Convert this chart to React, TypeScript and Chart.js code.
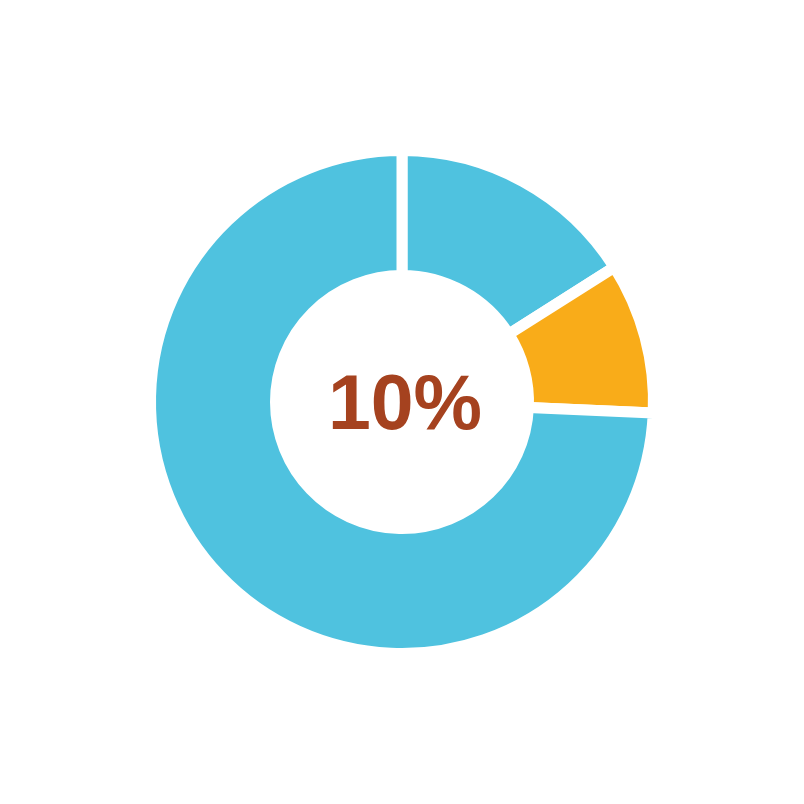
import React, { useEffect, useRef } from "react";
import { Chart, registerables } from "chart.js";

Chart.register(...registerables);

const categories = ["Other A", "Highlight", "Other B"];
const values = [16, 9.7, 74.3];
const colors = ["#4FC2DF", "#F9AC19", "#4FC2DF"];
const centerLabel = "10%";
const centerFont = "bold 77px 'Liberation Sans', Arial, Helvetica, sans-serif";

export default function App() {
  const ref = useRef<HTMLCanvasElement | null>(null);
  useEffect(() => {
    if (!ref.current) return;
    const centerText = {
      id: "centerText",
      afterDraw(chart: any) {
        const ctx = chart.ctx;
        const meta = chart.getDatasetMeta(0);
        const arc = meta.data[0];
        ctx.save();
        ctx.font = centerFont;
        ctx.fillStyle = "#A5421F";
        ctx.textAlign = "center";
        ctx.textBaseline = "alphabetic";
        ctx.fillText(centerLabel, arc.x + 3, arc.y + 27);
        ctx.restore();
      },
    };
    const chart = new Chart(ref.current, {
      type: "doughnut",
      data: {
        labels: categories,
        datasets: [
          {
            data: values,
            backgroundColor: colors,
            borderColor: "#FFFFFF",
            borderWidth: 11,
            hoverOffset: 0,
          },
        ],
      },
      options: {
        responsive: false,
        animation: false,
        radius: 251.5,
        cutout: "50.3%",
        plugins: {
          legend: { display: false },
          tooltip: { enabled: false },
        },
      },
      plugins: [centerText],
    });
    return () => {
      chart.destroy();
    };
  }, []);
  return (
    <div style={{ position: "fixed", left: 0, top: 0, width: 804, height: 804, background: "#fff" }}>
      <canvas ref={ref} width={804} height={804} style={{ display: "block" }} />
    </div>
  );
}
